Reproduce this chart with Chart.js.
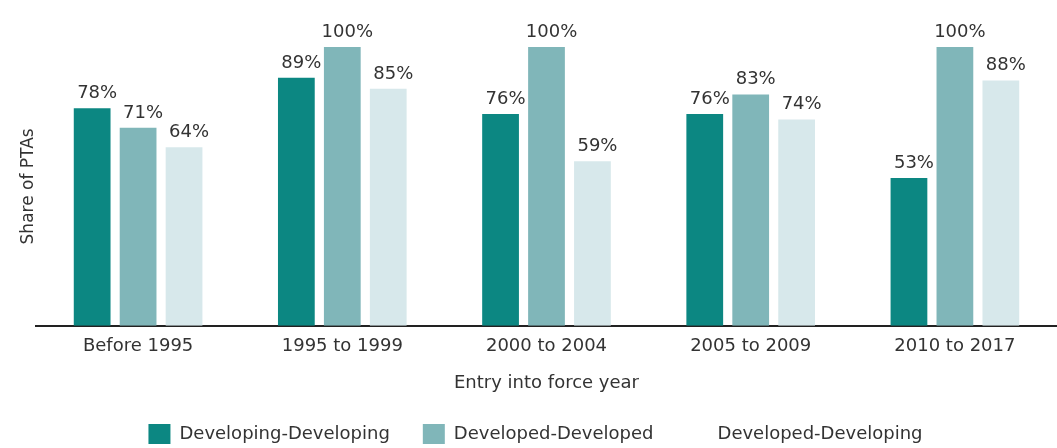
<!DOCTYPE html>
<html>
<head>
<meta charset="utf-8">
<script src="https://cdn.jsdelivr.net/npm/chart.js@4"></script>
<style>
html,body{margin:0;padding:0;background:#fff;}
#wrap{width:1057px;height:448px;position:relative;}
</style>
</head>
<body>
<div id="wrap"><canvas id="c" width="1057" height="448"></canvas></div>
<script>
const categories = ["Before 1995", "1995 to 1999", "2000 to 2004", "2005 to 2009", "2010 to 2017"];
const seriesNames = ["Developing-Developing", "Developed-Developed", "Developed-Developing"];
const devDev = [78, 89, 76, 76, 53];
const dvdDvd = [71, 100, 100, 83, 100];
const dvdDev = [64, 85, 59, 74, 88];
const colors = ["#0c8782", "#80b6b9", "#d7e8eb"];
const legendBoxColors = ["#0c8782", "#80b6b9", "rgba(255,255,255,0)"];

const FONT = "'DejaVu Sans', sans-serif";

const valueLabels = {
  id: 'valueLabels',
  afterDatasetsDraw(chart) {
    const ctx = chart.ctx;
    ctx.save();
    ctx.font = "18px " + FONT;
    ctx.fillStyle = "#333";
    ctx.textAlign = "center";
    ctx.textBaseline = "alphabetic";
    chart.data.datasets.forEach((ds, i) => {
      const meta = chart.getDatasetMeta(i);
      meta.data.forEach((el, j) => {
        ctx.fillText(ds.data[j] + "%", el.x + 5, el.y - 10);
      });
    });
    ctx.restore();
  }
};

new Chart(document.getElementById('c'), {
  type: 'bar',
  data: {
    labels: categories,
    datasets: [
      { label: seriesNames[0], data: devDev, backgroundColor: colors[0] },
      { label: seriesNames[1], data: dvdDvd, backgroundColor: colors[1] },
      { label: seriesNames[2], data: dvdDev, backgroundColor: colors[2] }
    ]
  },
  options: {
    responsive: false,
    animation: false,
    layout: { padding: { top: 47, left: 14, right: 0, bottom: -6 } },
    datasets: { bar: { categoryPercentage: 0.675, barPercentage: 0.8 } },
    plugins: {
      tooltip: { enabled: false },
      legend: {
        position: 'bottom',
        labels: {
          font: { family: FONT, size: 18 },
          color: '#333',
          boxWidth: 22,
          boxHeight: 20,
          padding: 33,
          generateLabels(chart) {
            return chart.data.datasets.map((ds, i) => ({
              text: ds.label,
              fillStyle: legendBoxColors[i],
              strokeStyle: 'rgba(0,0,0,0)',
              lineWidth: 0,
              fontColor: '#333',
              datasetIndex: i,
              hidden: false
            }));
          }
        }
      }
    },
    scales: {
      x: {
        grid: { display: false, drawTicks: false },
        border: { display: true, color: '#222', width: 2 },
        ticks: { font: { family: FONT, size: 18 }, color: '#333', padding: 10 },
        title: { display: true, text: 'Entry into force year', font: { family: FONT, size: 18 }, color: '#333', padding: { top: 5, bottom: -3 } }
      },
      y: {
        min: 0, max: 100,
        grid: { display: false, drawTicks: false },
        border: { display: false },
        ticks: { display: false },
        title: { display: true, text: 'Share of PTAs', font: { family: FONT, size: 17 }, color: '#333', padding: { top: 4, bottom: -2.4 } }
      }
    }
  },
  plugins: [valueLabels]
});
</script>
</body>
</html>
